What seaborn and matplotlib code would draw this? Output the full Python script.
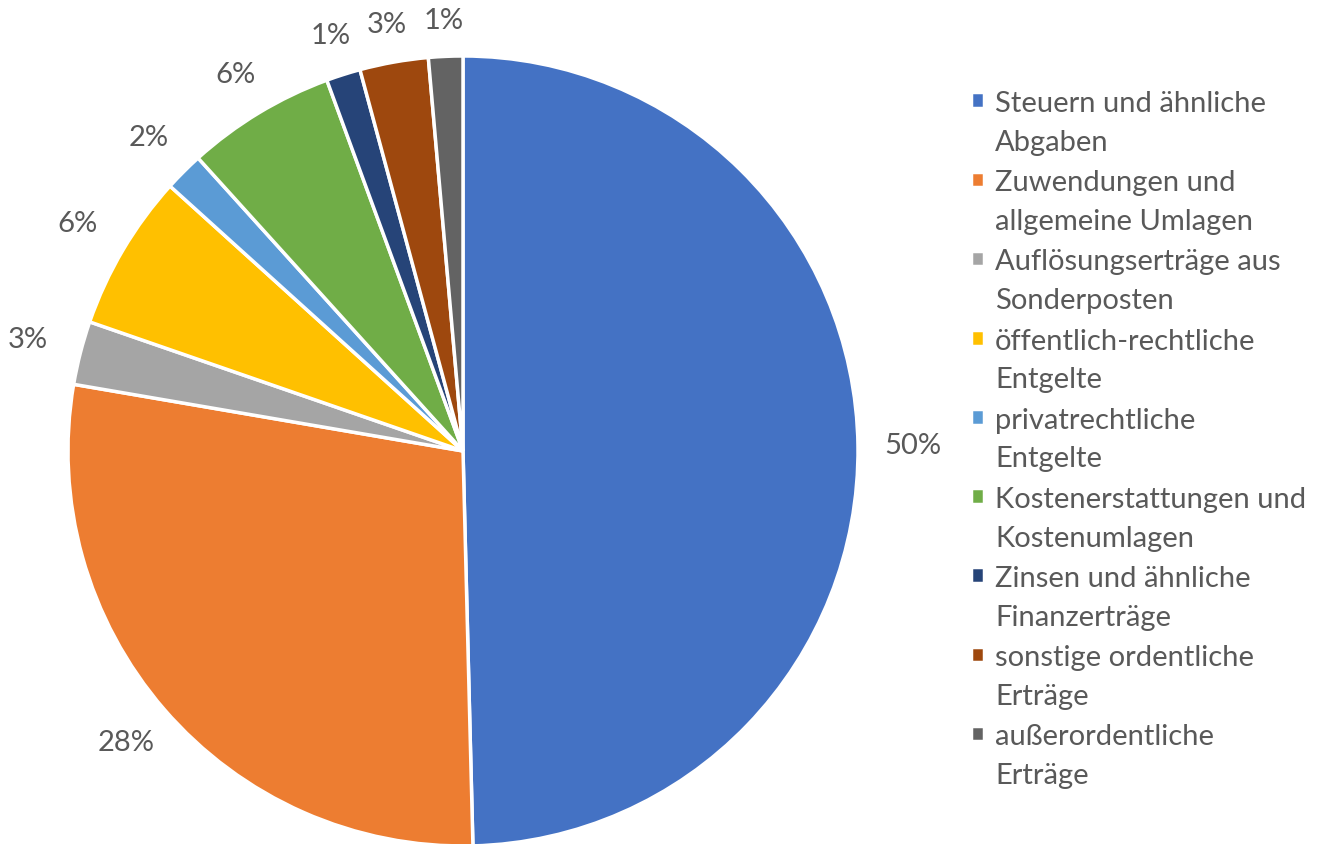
import matplotlib

matplotlib.use("Agg")

import matplotlib.pyplot as plt
import numpy as np
import seaborn as sns
from matplotlib.legend_handler import HandlerPatch
from matplotlib.patches import Rectangle

categories = [
    "Steuern und ähnliche\nAbgaben",
    "Zuwendungen und\nallgemeine Umlagen",
    "Auflösungserträge aus\nSonderposten",
    "öffentlich-rechtliche\nEntgelte",
    "privatrechtliche\nEntgelte",
    "Kostenerstattungen und\nKostenumlagen",
    "Zinsen und ähnliche\nFinanzerträge",
    "sonstige ordentliche\nErträge",
    "außerordentliche\nErträge",
]
shares = [49.6, 28.1, 2.6, 6.4, 1.6, 6.1, 1.4, 2.8, 1.4]
colors = [
    "#4472C4", "#ED7D31", "#A5A5A5", "#FFC000", "#5B9BD5",
    "#70AD47", "#264478", "#9E480E", "#636363",
]

sns.set_theme(style="white")
plt.rcParams["font.family"] = ["Lato", "DejaVu Sans"]
text_color = "#595959"


def first_line_square(legend, orig_handle, xdescent, ydescent, width, height, fontsize):
    # lift the square so it sits next to the first line of a wrapped label
    return Rectangle((-xdescent, -ydescent + 16), width, height)


fig = plt.figure(figsize=(13.27, 8.45), dpi=100)
ax = fig.add_axes([68 / 1327, (845 - 847) / 845, 790 / 1327, 790 / 845])

wedges, _, autotexts = ax.pie(
    shares,
    colors=sns.color_palette(colors),
    startangle=90,
    counterclock=False,
    autopct="%.0f%%",
    pctdistance=1.12,
    wedgeprops={"edgecolor": "white", "linewidth": 2.5},
    textprops={"fontsize": 21, "color": text_color},
)

for w, t in zip(wedges, autotexts):
    ang = np.deg2rad((w.theta1 + w.theta2) / 2)
    dist = 1.09 + 0.05 * abs(np.cos(ang))
    t.set_position((dist * np.cos(ang), dist * np.sin(ang)))

ax.set_xlim(-1, 1)
ax.set_ylim(-1, 1)
ax.set_aspect("equal")
ax.axis("off")

leg = fig.legend(
    wedges,
    categories,
    loc="upper left",
    bbox_to_anchor=(971 / 1327, 1 - 91 / 845),
    frameon=False,
    fontsize=21,
    handlelength=0.45,
    handleheight=0.45,
    handletextpad=0.38,
    labelspacing=0.50,
    borderpad=0,
    borderaxespad=0,
    handler_map={w: HandlerPatch(patch_func=first_line_square) for w in wedges},
)
for t in leg.get_texts():
    t.set_color(text_color)
    t.set_linespacing(1.6)

fig.savefig("out.png", dpi=100, facecolor="white")
plt.close(fig)
